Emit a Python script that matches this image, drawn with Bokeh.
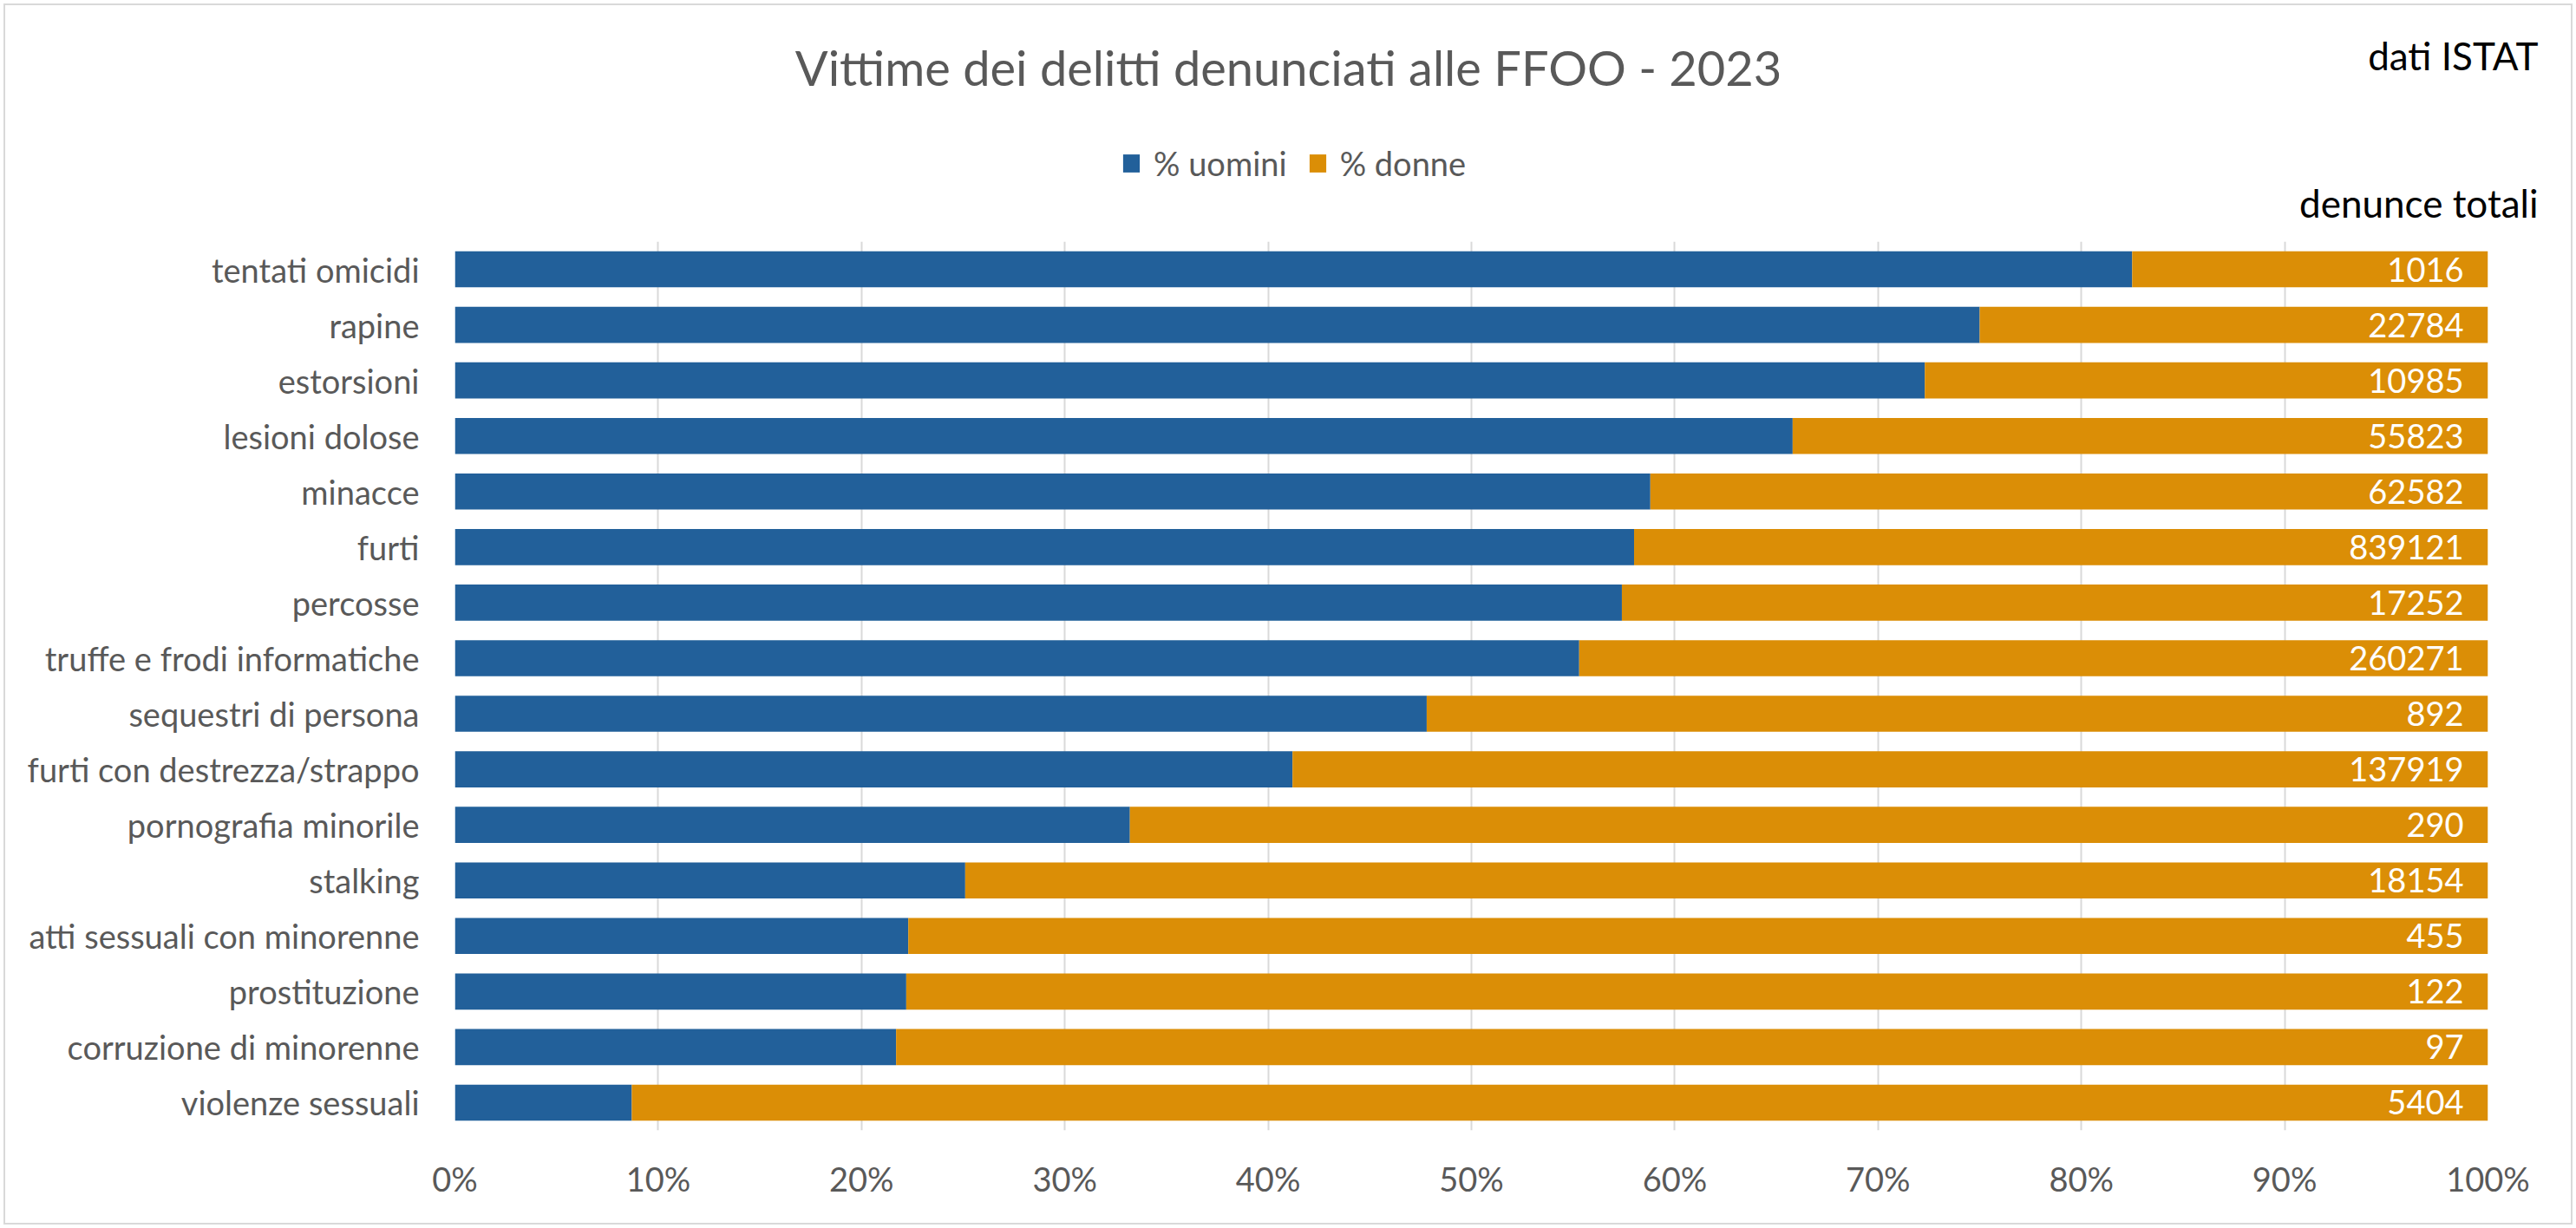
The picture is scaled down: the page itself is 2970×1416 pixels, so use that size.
from bokeh.plotting import figure
from bokeh.layouts import column
from bokeh.models import (FactorRange, Range1d, FixedTicker, PrintfTickFormatter,
                          Label, ColumnDataSource, Legend, LegendItem)
from bokeh.embed import file_html
from bokeh.resources import INLINE
from bokeh.core.properties import value

categories = ["tentati omicidi", "rapine", "estorsioni", "lesioni dolose", "minacce",
              "furti", "percosse", "truffe e frodi informatiche", "sequestri di persona",
              "furti con destrezza/strappo", "pornografia minorile", "stalking",
              "atti sessuali con minorenne", "prostituzione", "corruzione di minorenne",
              "violenze sessuali"]
pct_uomini = [82.5, 75.0, 72.3, 65.8, 58.8, 58.0, 57.4, 55.3, 47.8, 41.2,
              33.2, 25.1, 22.3, 22.2, 21.7, 8.7]
pct_donne = [17.5, 25.0, 27.7, 34.2, 41.2, 42.0, 42.6, 44.7, 52.2, 58.8,
             66.8, 74.9, 77.7, 77.8, 78.3, 91.3]
denunce_totali = [1016, 22784, 10985, 55823, 62582, 839121, 17252, 260271, 892,
                  137919, 290, 18154, 455, 122, 97, 5404]
x_ticks = [0, 10, 20, 30, 40, 50, 60, 70, 80, 90, 100]
series_names = ["% uomini", "% donne"]

FONT = "Lato"
GRAY = "#595959"
BLUE = "#22609A"
ORANGE = "#DB8E06"

W = 2970
H_HEAD = 278
H_MAIN = 1416 - H_HEAD

src = ColumnDataSource(dict(
    cat=categories,
    uomini=pct_uomini,
    donne=pct_donne,
    tot=[str(v) for v in denunce_totali],
    right=[u + d for u, d in zip(pct_uomini, pct_donne)],
))

# ---------- header (title, note, legend) ----------
head = figure(width=W, height=H_HEAD, output_backend="svg", toolbar_location=None,
              x_range=Range1d(0, W), y_range=Range1d(H_HEAD, 0),
              x_axis_type=None, y_axis_type=None, min_border=0)
head.frame_align = False
head.outline_line_color = None
head.xgrid.grid_line_color = None
head.ygrid.grid_line_color = None
head.border_fill_color = None
head.background_fill_color = None

head.add_layout(Label(x=1485, y=77, text="Vittime dei delitti denunciati alle FFOO - 2023",
                      text_align="center", text_baseline="middle", text_font=FONT,
                      text_font_size="56px", text_color=GRAY))
head.add_layout(Label(x=2926, y=63, text="dati ISTAT", text_align="right",
                      text_baseline="middle", text_font=FONT, text_font_size="44px",
                      text_color="black"))
head.add_layout(Label(x=2926, y=233, text="denunce totali", text_align="right",
                      text_baseline="middle", text_font=FONT, text_font_size="44px",
                      text_color="black"))

# zero-size key glyphs: only used to draw the legend swatches
key_src = ColumnDataSource(dict(y=[0], left=[0], right=[0]))
r_u = head.hbar(y="y", left="left", right="right", height=0, fill_color=BLUE,
                line_color=None, source=key_src)
r_d = head.hbar(y="y", left="left", right="right", height=0, fill_color=ORANGE,
                line_color=None, source=key_src)
lg = Legend(items=[LegendItem(label=series_names[0], renderers=[r_u]),
                   LegendItem(label=series_names[1], renderers=[r_d])],
            orientation="horizontal", location=(1292, 67))
lg.border_line_color = None
lg.background_fill_alpha = 0
lg.padding = 0
lg.margin = 0
lg.spacing = 23
lg.glyph_width = 24
lg.glyph_height = 26
lg.label_standoff = 14
lg.label_text_font = FONT
lg.label_text_font_size = "38px"
lg.label_text_color = GRAY
head.add_layout(lg)

# ---------- main chart ----------
p = figure(width=W, height=H_MAIN, output_backend="svg", toolbar_location=None,
           y_range=FactorRange(factors=list(reversed(categories)), range_padding=0),
           x_range=Range1d(0, 100),
           min_border_left=524, min_border_right=102, min_border_top=0,
           min_border_bottom=113)
p.frame_align = False

p.hbar_stack(["uomini", "donne"], y="cat", height=0.65, color=[BLUE, ORANGE],
             line_color=None, source=src)

p.text(x="right", y="cat", text="tot", x_offset=-28, text_align="right",
       text_baseline="middle", text_color="white", text_font=value(FONT),
       text_font_size="38px", source=src)

p.outline_line_color = None
p.border_fill_color = None
p.background_fill_color = None
p.ygrid.grid_line_color = None
p.xgrid.grid_line_color = "#d9d9d9"
p.xgrid.grid_line_width = 2

p.xaxis.ticker = FixedTicker(ticks=x_ticks)
p.xaxis.formatter = PrintfTickFormatter(format="%d%%")
for ax in (p.xaxis[0], p.yaxis[0]):
    ax.axis_line_color = None
    ax.major_tick_line_color = None
    ax.minor_tick_line_color = None
    ax.major_label_text_font = FONT
    ax.major_label_text_font_size = "38px"
    ax.major_label_text_color = GRAY
p.xaxis.major_label_standoff = 26
p.yaxis.major_label_standoff = 35

page = column(head, p, spacing=0)
page.styles = {"outline": "2px solid #d9d9d9", "outline-offset": "-6px",
               "background-color": "white"}

open("out.html", "w").write(file_html(page, INLINE))
